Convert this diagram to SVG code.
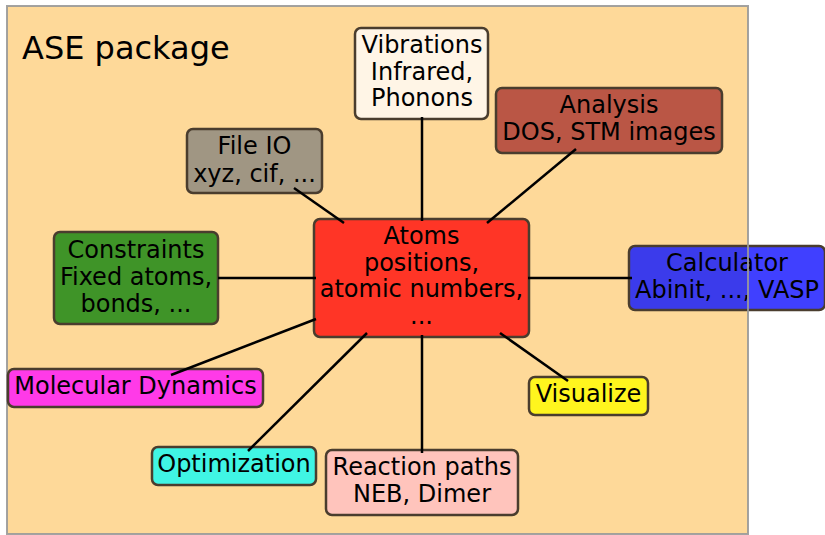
<svg xmlns="http://www.w3.org/2000/svg" width="825" height="535" viewBox="0 0 825 535">
  <style>
    .box { stroke: #4a3d2e; stroke-width: 2.5; }
    .lbl { font-family: "DejaVu Sans", "Liberation Sans", sans-serif; font-size: 24px; fill: #000; text-anchor: middle; }
    .title { font-family: "DejaVu Sans", "Liberation Sans", sans-serif; font-size: 32px; fill: #000; }
    .conn line { stroke: #000; stroke-width: 2.5; stroke-linecap: butt; }
  </style>
  <rect x="7" y="6" width="741" height="528" fill="#fed999"/>
  <text class="title" x="22" y="59">ASE package</text>

  <g id="calculator">
    <rect class="box" x="629" y="246" width="196" height="64" rx="6" fill="#4040ff"/>
    <rect x="630.5" y="247.5" width="117" height="61" fill="#000" opacity="0.08"/>
    <text class="lbl" x="727" y="271">Calculator</text>
    <text class="lbl" x="727" y="298">Abinit, ..., VASP</text>
  </g>
  <rect x="7" y="6" width="741" height="528" fill="none" stroke="#999" stroke-width="2" opacity="0.9"/>

  <g id="vibrations">
    <rect class="box" x="355" y="28" width="133" height="91" rx="6" fill="#fff5e6"/>
    <text class="lbl" x="422" y="53">Vibrations</text>
    <text class="lbl" x="422" y="80">Infrared,</text>
    <text class="lbl" x="422" y="106">Phonons</text>
  </g>
  <g id="analysis">
    <rect class="box" x="496" y="88" width="226" height="65" rx="6" fill="#ba5645"/>
    <text class="lbl" x="609" y="113">Analysis</text>
    <text class="lbl" x="609" y="140">DOS, STM images</text>
  </g>
  <g id="fileio">
    <rect class="box" x="187" y="129" width="135" height="64" rx="6" fill="#a09683"/>
    <text class="lbl" x="254.5" y="154">File IO</text>
    <text class="lbl" x="254.5" y="182">xyz, cif, ...</text>
  </g>
  <g id="constraints">
    <rect class="box" x="54" y="232" width="164" height="92" rx="6" fill="#3f9428"/>
    <text class="lbl" x="136" y="258">Constraints</text>
    <text class="lbl" x="136" y="285">Fixed atoms,</text>
    <text class="lbl" x="136" y="312">bonds, ...</text>
  </g>
  <g id="atoms">
    <rect class="box" x="314" y="219" width="215" height="118" rx="6" fill="#ff3526"/>
    <text class="lbl" x="421.5" y="244">Atoms</text>
    <text class="lbl" x="421.5" y="271">positions,</text>
    <text class="lbl" x="421.5" y="297">atomic numbers,</text>
    <text class="lbl" x="421.5" y="324">...</text>
  </g>
  <g id="md">
    <rect class="box" x="8" y="369" width="255" height="38" rx="6" fill="#ff3ae8"/>
    <text class="lbl" x="135.5" y="394">Molecular Dynamics</text>
  </g>
  <g id="optimization">
    <rect class="box" x="152" y="447" width="164" height="38" rx="6" fill="#40f5e4"/>
    <text class="lbl" x="234" y="472">Optimization</text>
  </g>
  <g id="reaction">
    <rect class="box" x="326" y="450" width="192" height="65" rx="6" fill="#ffc4bc"/>
    <text class="lbl" x="422" y="475">Reaction paths</text>
    <text class="lbl" x="422" y="502">NEB, Dimer</text>
  </g>
  <g id="visualize">
    <rect class="box" x="529" y="377" width="119" height="38" rx="6" fill="#fff51e"/>
    <text class="lbl" x="588.5" y="402">Visualize</text>
  </g>

  <g id="connectors" class="conn">
    <line x1="294" y1="188" x2="344" y2="223"/>
    <line x1="422" y1="117" x2="422" y2="221"/>
    <line x1="576" y1="149" x2="487" y2="223"/>
    <line x1="218" y1="278" x2="316" y2="278"/>
    <line x1="528" y1="278" x2="632" y2="278"/>
    <line x1="316" y1="319" x2="171" y2="375"/>
    <line x1="367" y1="333" x2="248" y2="451"/>
    <line x1="422" y1="335" x2="422" y2="453"/>
    <line x1="500" y1="333" x2="568" y2="381"/>
  </g>
</svg>
